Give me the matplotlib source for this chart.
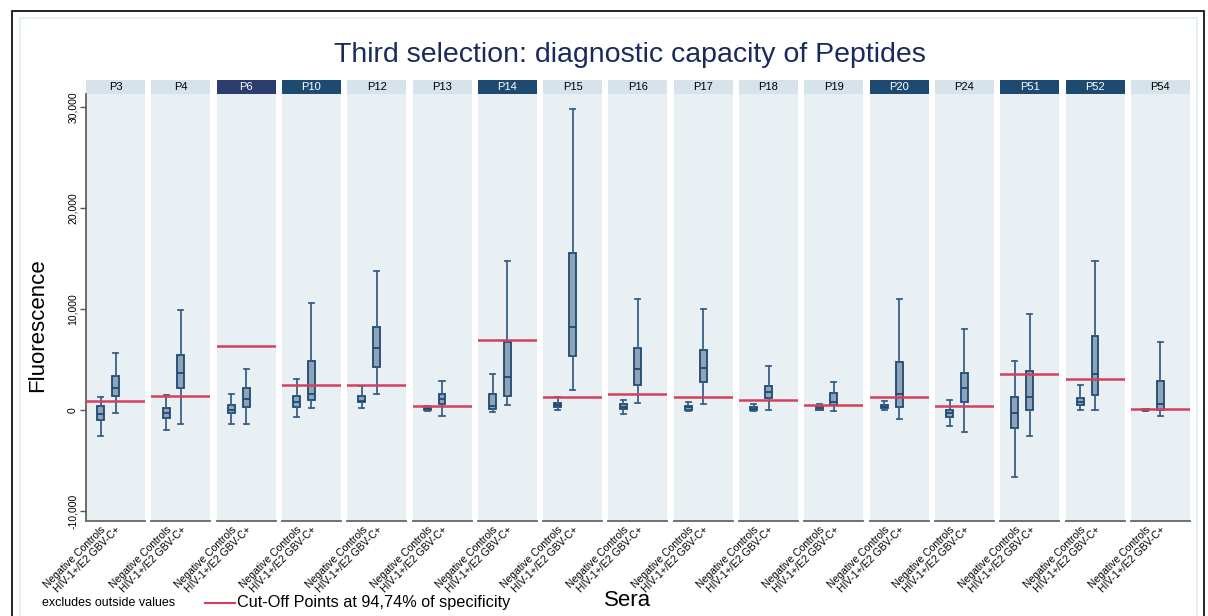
import matplotlib.pyplot as plt
from matplotlib.patches import Rectangle

plt.rcParams['font.family'] = ['Liberation Sans', 'DejaVu Sans']

# Peptides and which strips are highlighted
peptides = ['P3', 'P4', 'P6', 'P10', 'P12', 'P13', 'P14', 'P15', 'P16',
            'P17', 'P18', 'P19', 'P20', 'P24', 'P51', 'P52', 'P54']
highlighted = ['P6', 'P10', 'P14', 'P20', 'P51', 'P52']
groups = ['Negative Controls', 'HIV-1+/E2 GBV-C+']

# box stats: whisker low, q1, median, q3, whisker high
neg_stats = [
    [-2560, -985, -360, 360, 1310],
    [-1970, -820, -300, 200, 1510],
    [-1410, -330, 0, 460, 1610],
    [-690, 260, 790, 1410, 3120],
    [160, 790, 920, 1410, 2330],
    [-130, -30, 100, 200, 430],
    [-200, 70, 430, 1580, 3610],
    [-30, 260, 460, 660, 1310],
    [-360, 130, 330, 620, 985],
    [-50, 0, 260, 430, 820],
    [-130, -30, 130, 260, 560],
    [-30, 30, 200, 360, 560],
    [0, 160, 330, 530, 920],
    [-1580, -690, -330, -30, 1020],
    [-6600, -1800, -260, 1310, 4860],
    [-30, 460, 820, 1210, 2460],
    [-50, -10, 20, 60, 80],
]
pos_stats = [
    [-260, 1380, 2170, 3350, 5640],
    [-1410, 2200, 3710, 5480, 9920],
    [-1410, 300, 1080, 2170, 4100],
    [160, 950, 1580, 4890, 10640],
    [1580, 4270, 6180, 8210, 13720],
    [-620, 590, 1050, 1540, 2890],
    [460, 1410, 3250, 6770, 14710],
    [1970, 5320, 8240, 15560, 29820],
    [690, 2460, 4100, 6110, 11000],
    [590, 2730, 4200, 5910, 10020],
    [0, 1150, 1740, 2400, 4370],
    [-100, 460, 760, 1640, 2760],
    [-920, 300, 1580, 4730, 11000],
    [-2130, 790, 2170, 3680, 7980],
    [-2530, -30, 1280, 3870, 9550],
    [-30, 1510, 3520, 7360, 14710],
    [-590, 0, 560, 2890, 6770],
]
cutoffs = [890, 1410, 6300, 2500, 2460, 430, 6930, 1310, 1610,
           1310, 950, 460, 1250, 430, 3550, 3080, 100]

W, H = 1208, 616
fig = plt.figure(figsize=(W / 100, H / 100), dpi=100)


def fx(px):
    return px / W


def fy(py):
    return 1 - py / H


# outer frame and faint inner border
fig.patches.append(Rectangle((fx(12), fy(640)), fx(1204) - fx(12), fy(11) - fy(640),
                             transform=fig.transFigure, fill=False, ec='black', lw=1.2))
fig.patches.append(Rectangle((fx(20), fy(640)), fx(1197) - fx(20), fy(18) - fy(640),
                             transform=fig.transFigure, fill=False, ec='#e2eef2', lw=1.2))

top, bottom = 94, 520.7
panel_w, step, left0 = 59, 65.3, 86
strip_h = 13.7
box_c = '#1f4a73'

for i, pep in enumerate(peptides):
    left = left0 + i * step
    ax = fig.add_axes([fx(left), fy(bottom), fx(panel_w), fy(top) - fy(bottom)])
    ax.set_facecolor('#e8f0f3')
    stats = []
    for s in (neg_stats[i], pos_stats[i]):
        stats.append(dict(whislo=s[0], q1=s[1], med=s[2], q3=s[3], whishi=s[4], fliers=[]))
    ax.bxp(stats, positions=[1, 2], widths=0.47, capwidths=0.34,
           patch_artist=True, showfliers=False,
           boxprops=dict(facecolor='#8fa4b8', edgecolor=box_c, lw=1.3),
           medianprops=dict(color=box_c, lw=1.3),
           whiskerprops=dict(color='#3a6088', lw=1.3),
           capprops=dict(color='#3a6088', lw=1.3))
    ax.axhline(cutoffs[i], color='#d3415f', lw=1.8, zorder=3)
    ax.set_xlim(0, 4)
    ax.set_ylim(-10960, 31290)
    for sp in ['top', 'right', 'left']:
        ax.spines[sp].set_visible(False)
    ax.spines['bottom'].set_color('#666666')
    ax.spines['bottom'].set_linewidth(1.3)
    ax.set_xticks([1, 2])
    ax.set_xticklabels(groups, rotation=45, ha='right', va='top',
                       rotation_mode='anchor', fontsize=7.5)
    ax.tick_params(axis='x', length=0, pad=3)
    if i == 0:
        ax.spines['left'].set_visible(True)
        ax.spines['left'].set_color('#555555')
        ax.spines['left'].set_linewidth(1.2)
        ax.set_yticks([-10000, 0, 10000, 20000, 30000])
        ax.set_yticklabels(['-10,000', '0', '10,000', '20,000', '30,000'],
                           rotation=90, va='center', fontsize=7.5)
        ax.tick_params(axis='y', length=4, width=1, color='#555555', pad=2)
    else:
        ax.set_yticks([])

    # strip header
    dark = pep in highlighted
    sc = ('#2a3d6c' if pep == 'P6' else '#1e4a72') if dark else '#d6e3ea'
    hfrac = strip_h / (bottom - top)
    ax.add_patch(Rectangle((0, 1.0), 1, hfrac, transform=ax.transAxes,
                           color=sc, clip_on=False, lw=0))
    ax.text(0.5, 1 + hfrac / 2, pep, transform=ax.transAxes, ha='center', va='center',
            fontsize=8, color='white' if dark else 'black')

fig.text(fx(630), fy(55), 'Third selection: diagnostic capacity of Peptides',
         ha='center', va='center', fontsize=20.5, color='#1a2a5c')
fig.text(fx(38), fy(325), 'Fluorescence', rotation=90, ha='center', va='center', fontsize=16)
fig.text(fx(628), fy(601), 'Sera', ha='center', va='center', fontsize=16)
fig.text(fx(42), fy(603), 'excludes outside values', ha='left', va='center', fontsize=9)
fig.lines.append(plt.Line2D([fx(205), fx(235)], [fy(603), fy(603)],
                            transform=fig.transFigure, color='#d3415f', lw=1.5))
fig.text(fx(237), fy(603), 'Cut-Off Points at 94,74% of specificity',
         ha='left', va='center', fontsize=11.7)

fig.savefig('out.png', dpi=100)
